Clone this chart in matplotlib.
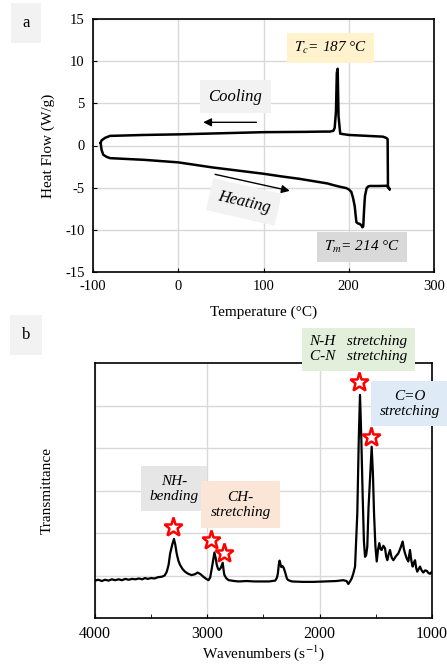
import matplotlib
matplotlib.use("Agg")
import matplotlib.pyplot as plt

plt.rcParams['font.family'] = ['Liberation Serif', 'DejaVu Serif']
plt.rcParams['mathtext.fontset'] = 'stix'
plt.rcParams['axes.unicode_minus'] = False

# DSC data (temperature in °C, heat flow in W/g) - heating then cooling
heat_T = [-91, -90, -88, -84, -80, -60, -40, -20, 0, 20, 40, 64, 80, 100, 120,
          142, 160, 175, 182, 190, 197, 200, 203, 205, 207, 208, 209, 211, 213,
          215, 216, 217, 218, 219, 221, 223, 225, 235, 244, 246, 248]
heat_Q = [0.3, -0.5, -1.1, -1.35, -1.5, -1.6, -1.7, -1.85, -2.0, -2.3, -2.6,
          -2.9, -3.1, -3.35, -3.65, -3.95, -4.25, -4.5, -4.7, -4.9, -5.05, -5.2,
          -5.5, -6.2, -7.2, -8.2, -9.1, -9.25, -9.3, -9.5, -9.7, -9.6, -7.6, -6.0,
          -5.05, -4.85, -4.8, -4.8, -4.78, -4.9, -5.2]
cool_T = [246, 245.6, 244, 240, 220, 200, 190, 188, 187, 186, 185, 183.5, 182,
          178, 170, 150, 100, 50, 0, -40, -80, -86, -90, -91]
cool_Q = [-4.9, 0.75, 0.9, 1.05, 1.15, 1.25, 1.4, 3.5, 9.1, 8.6, 4.0, 2.1, 1.75,
          1.65, 1.65, 1.62, 1.58, 1.45, 1.32, 1.25, 1.14, 0.9, 0.6, 0.3]

# FTIR data (wavenumber, transmittance in arbitrary units)
wn = [4000, 3970, 3940, 3910, 3880, 3850, 3820, 3790, 3760, 3730, 3700, 3670,
      3640, 3610, 3580, 3555, 3530, 3500, 3470, 3440, 3406, 3380, 3361, 3345,
      3331, 3310, 3297, 3285, 3273, 3258, 3243, 3220, 3199, 3170, 3140, 3110,
      3086, 3060, 3035, 3010, 2990, 2975, 2960, 2945, 2937, 2925, 2916, 2905,
      2896, 2880, 2863, 2855, 2848, 2830, 2810, 2760, 2721, 2650, 2580, 2514,
      2450, 2395, 2380, 2372, 2364, 2357, 2350, 2342, 2330, 2322, 2309, 2292,
      2279, 2247, 2150, 2057, 1950, 1850, 1790, 1760, 1745, 1730, 1715, 1700,
      1685, 1665, 1652, 1641, 1630, 1617, 1606, 1596, 1586, 1576, 1565, 1552,
      1537, 1526, 1516, 1504, 1492, 1480, 1469, 1458, 1448, 1433, 1418, 1408,
      1398, 1386, 1374, 1359, 1344, 1322, 1300, 1280, 1261, 1250, 1240, 1225,
      1211, 1203, 1196, 1184, 1172, 1162, 1151, 1141, 1131, 1119, 1107, 1092,
      1077, 1062, 1047, 1032, 1018, 1000]
tr = [0.88, 0.90, 0.87, 0.90, 0.88, 0.91, 0.89, 0.91, 0.89, 0.92, 0.90, 0.92,
      0.91, 0.93, 0.91, 0.94, 0.92, 0.94, 0.93, 0.96, 0.97, 1.00, 1.09, 1.25,
      1.52, 1.75, 1.86, 1.72, 1.52, 1.35, 1.25, 1.15, 1.09, 1.04, 1.01, 1.03,
      1.07, 1.03, 0.97, 0.92, 0.89, 0.95, 1.17, 1.42, 1.54, 1.40, 1.25, 1.16,
      1.13, 1.18, 1.30, 1.12, 1.01, 0.93, 0.89, 0.87, 0.86, 0.87, 0.86, 0.86,
      0.86, 0.88, 0.95, 1.05, 1.25, 1.35, 1.28, 1.20, 1.22, 1.19, 1.09, 0.93,
      0.89, 0.86, 0.85, 0.85, 0.86, 0.87, 0.89, 0.87, 0.80, 0.86, 0.93, 1.05,
      1.21, 2.46, 4.20, 5.25, 4.30, 2.85, 1.80, 1.44, 1.48, 1.68, 2.60, 3.25,
      4.03, 3.40, 2.46, 1.70, 1.33, 1.62, 1.76, 1.62, 1.60, 1.70, 1.64, 1.45,
      1.36, 1.50, 1.60, 1.42, 1.36, 1.45, 1.52, 1.65, 1.80, 1.62, 1.52, 1.40,
      1.33, 1.48, 1.60, 1.35, 1.21, 1.30, 1.36, 1.18, 1.09, 1.15, 1.21, 1.12,
      1.07, 1.12, 1.11, 1.06, 1.04, 1.09]

# starred peaks (wavenumber, marker height)
star_wn = [3306, 2968, 2853, 1652, 1539]
star_y = [2.13, 1.84, 1.53, 5.55, 4.27]

fig = plt.figure(figsize=(4.47, 6.68), dpi=100)

grid_c = '#d9d9d9'

# ---------------- panel a: DSC ----------------
ax1 = fig.add_axes([93 / 447, 1 - 272 / 668, 341 / 447, 253 / 668])
ax1.plot(heat_T + cool_T, heat_Q + cool_Q, color='black', lw=1.8, zorder=3)
ax1.set_xlim(-100, 300)
ax1.set_ylim(-15, 15)
ax1.set_xticks([-100, 0, 100, 200, 300])
ax1.set_yticks([-15, -10, -5, 0, 5, 10, 15])
ax1.grid(True, color=grid_c, lw=1)
ax1.set_axisbelow(True)
ax1.tick_params(direction='in', labelsize=10.5, length=3)
ax1.tick_params(axis='x', pad=6)
ax1.tick_params(axis='y', pad=6)
ax1.set_xlabel('Temperature (°C)', fontsize=11, labelpad=9)
ax1.set_ylabel('Heat Flow (W/g)', fontsize=11, labelpad=7)
for s in ax1.spines.values():
    s.set_linewidth(1.2)

ax1.text(179, 11.6, '$T_c$= 187 °C', style='italic', fontsize=11, ha='center', va='center',
         bbox=dict(boxstyle='square,pad=0.45', fc='#fff2cc', ec='none'), zorder=4)
ax1.text(216, -12.0, '$T_m$= 214 °C', style='italic', fontsize=11, ha='center', va='center',
         bbox=dict(boxstyle='square,pad=0.45', fc='#d9d9d9', ec='none'), zorder=4)
ax1.text(67, 5.8, 'Cooling', style='italic', fontsize=12, ha='center', va='center',
         bbox=dict(boxstyle='square,pad=0.5', fc='#f2f2f2', ec='none'), zorder=4)
ax1.text(77, -6.7, 'Heating', style='italic', fontsize=12, ha='center', va='center',
         rotation=-13, rotation_mode='anchor',
         bbox=dict(boxstyle='square,pad=0.5', fc='#f2f2f2', ec='none'), zorder=4)
ax1.annotate('', xy=(26, 2.75), xytext=(95, 2.75),
             arrowprops=dict(arrowstyle='-|>', color='black', lw=1, mutation_scale=12))
ax1.annotate('', xy=(134, -5.45), xytext=(40, -3.35),
             arrowprops=dict(arrowstyle='-|>', color='black', lw=1, mutation_scale=12))

# ---------------- panel b: FTIR ----------------
ax2 = fig.add_axes([95 / 447, 50 / 668, 337 / 447, 255 / 668])
ax2.plot(wn, tr, color='black', lw=1.6, zorder=3)
ax2.plot(star_wn, star_y, ls='none', marker='*', ms=14, mfc='white', mec='red',
         mew=1.8, zorder=5, clip_on=False)
ax2.set_xlim(4000, 1000)
ax2.set_ylim(0, 6)
ax2.set_xticks([4000, 3000, 2000, 1000])
ax2.set_xticks([3500, 2500, 1500], minor=True)
ax2.set_yticks([1, 2, 3, 4, 5])
ax2.tick_params(axis='y', left=False, labelleft=False)
ax2.tick_params(axis='x', which='both', direction='in', length=3, labelsize=11.5, pad=6)
ax2.grid(True, color=grid_c, lw=1)
ax2.set_axisbelow(True)
ax2.set_xlabel('Wavenumbers (s$^{-1}$)', fontsize=11, labelpad=1)
ax2.set_ylabel('Transmittance', fontsize=11, labelpad=30)
for s in ax2.spines.values():
    s.set_linewidth(1.2)

ax2.text(3297, 3.04, 'NH-\nbending', style='italic', fontsize=11, ha='center', va='center',
         linespacing=1.2, bbox=dict(boxstyle='square,pad=0.55', fc='#e7e6e6', ec='none'), zorder=4)
ax2.text(2705, 2.67, 'CH-\nstretching', style='italic', fontsize=11, ha='center', va='center',
         linespacing=1.2, bbox=dict(boxstyle='square,pad=0.6', fc='#fbe5d6', ec='none'), zorder=4)
ax2.text(1654, 6.32, 'N-H   stretching\nC-N   stretching', style='italic', fontsize=11,
         ha='center', va='center', linespacing=1.2, clip_on=False,
         bbox=dict(boxstyle='square,pad=0.5', fc='#e2efda', ec='none'), zorder=4)
ax2.text(1200, 5.04, 'C=O\nstretching', style='italic', fontsize=11, ha='center', va='center',
         linespacing=1.2, clip_on=False,
         bbox=dict(boxstyle='square,pad=0.55', fc='#deebf7', ec='none'), zorder=4)

# panel letters
fig.text(26 / 447, 1 - 23 / 668, 'a', fontsize=12, ha='center', va='center',
         bbox=dict(boxstyle='square,pad=0.7', fc='#f2f2f2', ec='none'))
fig.text(26 / 447, 1 - 335 / 668, 'b', fontsize=12, ha='center', va='center',
         bbox=dict(boxstyle='square,pad=0.7', fc='#f2f2f2', ec='none'))

fig.savefig('out.png', dpi=100)
